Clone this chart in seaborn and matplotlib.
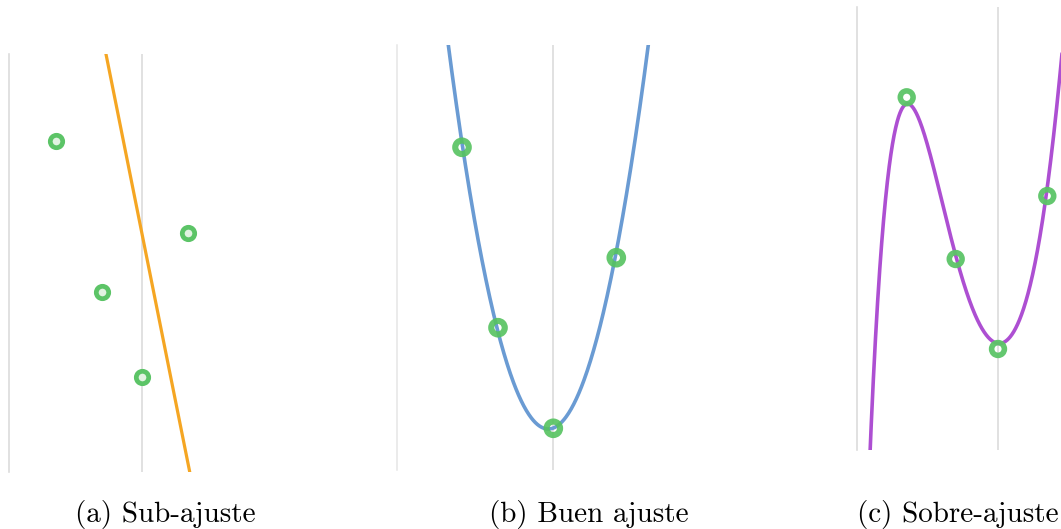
import numpy as np
import pandas as pd
import matplotlib
matplotlib.use("Agg")
import matplotlib.pyplot as plt
import seaborn as sns

# Four observations shown in each panel
under_x = [-8.6, -3.97, 0.0, 4.66]
under_y = [33.13, 17.97, 9.53, 23.93]
good_x = [-9.13, -5.53, 0.0, 6.3]
good_y = [32.27, 14.23, 4.17, 21.23]
over_x = [-9.13, -4.23, 0.0, 4.93]
over_y = [35.27, 19.1, 10.1, 25.4]

# (a) straight-line model
line_intercept = 23.97
line_slope = -4.99

# (b) quadratic model, vertex form a*(x - h)**2 + k
quad_a = 0.384
quad_h = -0.5
quad_k = 4.1

# (c) high-degree model, given by points along its curve
over_curve_x = [-12.7, -12.47, -12.13, -11.73, -11.13, -10.47, -9.6, -9.13, -8.6, -7.13, -5.8,
                -4.13, -2.8, -1.47, 0.03, 1.87, 3.2, 4.13, 5.53, 6.3]
over_curve_y = [0.33, 9.0, 14.0, 19.0, 25.33, 30.33, 34.6, 35.4, 34.6, 30.33, 25.33,
                19.0, 15.33, 12.0, 10.27, 12.33, 16.67, 21.0, 31.0, 38.67]

captions = ["(a) Sub-ajuste", "(b) Buen ajuste", "(c) Sobre-ajuste"]

sns.set_theme(style="white")

W, H = 1061, 529
fig = plt.figure(figsize=(W / 100, H / 100), dpi=100)
fig.patch.set_facecolor("white")

# panel frames in pixels: left, top, right, bottom, position of x = 0
frames = [
    (9.3, 54, 320, 472, 141.7),
    (396.7, 45, 781, 470, 553.3),
    (856.7, 7, 1075, 450, 998.0),
]
caption_centers = [165, 589, 958]

GREEN = "#5cc467"
GRID = "#d8d8d8"


def make_axes(frame, left_color=GRID):
    left, top, right, bottom, x0 = frame
    ax = fig.add_axes([left / W, (H - bottom) / H, (right - left) / W, (bottom - top) / H])
    ax.set_xlim((left - x0) / 10, (right - x0) / 10)
    ax.set_ylim(0, (bottom - top) / 10)
    ax.set_facecolor("none")
    for side in ("top", "right", "bottom"):
        ax.spines[side].set_visible(False)
    ax.spines["left"].set_color(left_color)
    ax.spines["left"].set_linewidth(1.1)
    ax.axvline(0, color=GRID, lw=1.1, zorder=0)
    ax.set_xticks([])
    ax.set_yticks([])
    ax.set_xlabel("")
    ax.set_ylabel("")
    return ax


axes = [make_axes(frames[0]), make_axes(frames[1], "#e6e6e6"), make_axes(frames[2])]

# (a) under-fit
ax = axes[0]
xs = np.linspace(*ax.get_xlim(), 200)
sns.lineplot(x=xs, y=line_intercept + line_slope * xs, color="#f5a623", lw=2.3, ax=ax, zorder=2)
sns.scatterplot(x=under_x, y=under_y, s=80, facecolor="#e2f3e2", edgecolor=GREEN,
                linewidth=3.4, ax=ax, zorder=3)

# (b) good fit
ax = axes[1]
xs = np.linspace(*ax.get_xlim(), 600)
sns.lineplot(x=xs, y=quad_a * (xs - quad_h) ** 2 + quad_k, color="#6a9bd3", lw=2.6, ax=ax, zorder=2)
sns.scatterplot(x=good_x, y=good_y, s=95, facecolor="none", edgecolor="#55c25f",
                linewidth=4.4, alpha=0.9, ax=ax, zorder=3)

# (c) over-fit
ax = axes[2]
coef = np.polyfit(over_curve_x, over_curve_y, 8)
xs = np.linspace(-14, 7.5, 800)
sns.lineplot(x=xs, y=np.polyval(coef, xs), color="#ad4fd2", lw=2.6, ax=ax, zorder=2)
sns.scatterplot(x=over_x, y=over_y, s=85, facecolor="none", edgecolor=GREEN,
                linewidth=4.0, alpha=0.95, ax=ax, zorder=3)

for cx, text in zip(caption_centers, captions):
    fig.text(cx / W, (H - 522) / H, text, ha="center", va="baseline",
             fontsize=21, family="cmr10", color="black")

fig.savefig("out.png", dpi=100, facecolor="white")
